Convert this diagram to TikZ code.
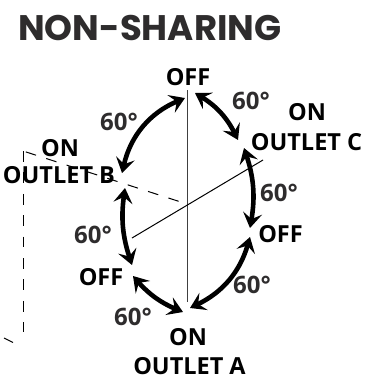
\documentclass[tikz,border=0pt]{standalone}
\usepackage{fontspec}
\setmainfont{Open Sans}
\newfontfamily\titlefont{Poppins}
\usetikzlibrary{arrows.meta}
\definecolor{ink}{HTML}{2E2C2D}
\tikzset{
  x=1pt,y=-1pt,
  swing/.style={line width=4.6pt,{Stealth[length=15pt,width=19pt,inset=6pt]}-{Stealth[length=15pt,width=19pt,inset=6pt]}},
  axis/.style={line width=1pt,black},
  axisgrey/.style={line width=1.1pt,black!75},
  hidden/.style={line width=1pt,black,dash pattern=on 10.7pt off 10.7pt},
  lab/.style={font=\bfseries\fontsize{23.5}{25}\selectfont,black,inner sep=0pt,align=center},
  deg/.style={font=\bfseries\fontsize{24}{26}\selectfont,text=ink,inner sep=0pt},
  ttl/.style={font=\titlefont\bfseries\fontsize{35.5}{38}\selectfont,text=ink,inner sep=0pt,anchor=west},
}
\begin{document}
\begin{tikzpicture}
\useasboundingbox (0,0) rectangle (377,380);
\coordinate (vt) at (187.5,90); \coordinate (vb) at (187.5,302);
\coordinate (dl) at (132,238); \coordinate (dr) at (263,160);
\coordinate (hc) at (187,204); \coordinate (hb) at (23,151); \coordinate (hd) at (23,332);
\coordinate (fa) at (4,338); \coordinate (fb) at (13,342.5);
\draw[axisgrey] (vt) -- (vb);
\draw[axis] (dl) -- (dr);
\draw[hidden,dash phase=18.4pt] (hb) -- (hc);
\draw[hidden] (hb) -- (hd);
\draw[axis] (fa) -- (fb);
\coordinate (a1) at (185,98); \coordinate (a2) at (122,173);
\coordinate (b1) at (195,93); \coordinate (b2) at (238,140);
\coordinate (c1) at (244,148); \coordinate (c2) at (250,228);
\coordinate (d1) at (250,237); \coordinate (d2) at (190,308);
\coordinate (e1) at (133,276); \coordinate (e2) at (183,312);
\coordinate (f1) at (125,188); \coordinate (f2) at (132,265);
\draw[swing] (a1) to[bend right=27] (a2);
\draw[swing] (b1) to[bend left=16] (b2);
\draw[swing] (c1) to[bend left=14] (c2);
\draw[swing] (d1) to[bend left=24] (d2);
\draw[swing] (e1) to[bend right=13] (e2);
\draw[swing] (f1) to[bend right=13] (f2);
\node[ttl] (title) at (18,28) {NON-SHARING};
\node[lab] (off1) at (188,77) {OFF};
\node[lab] (onc) at (307,112) {ON};
\node[lab] (outc) at (306.5,142) {OUTLET C};
\node[lab] (onb) at (60,148) {ON};
\node[lab] (outb) at (59,175) {OUTLET B};
\node[lab] (off2) at (280.5,234) {OFF};
\node[lab] (off3) at (101,277) {OFF};
\node[lab] (ona) at (188,337) {ON};
\node[lab] (outa) at (189.5,366.5) {OUTLET A};
\node[deg] (d60a) at (119,122) {60°};
\node[deg] (d60b) at (251,101) {60°};
\node[deg] (d60c) at (279,193) {60°};
\node[deg] (d60d) at (252,285) {60°};
\node[deg] (d60e) at (133,317) {60°};
\node[deg] (d60f) at (93,235) {60°};
\end{tikzpicture}
\end{document}
